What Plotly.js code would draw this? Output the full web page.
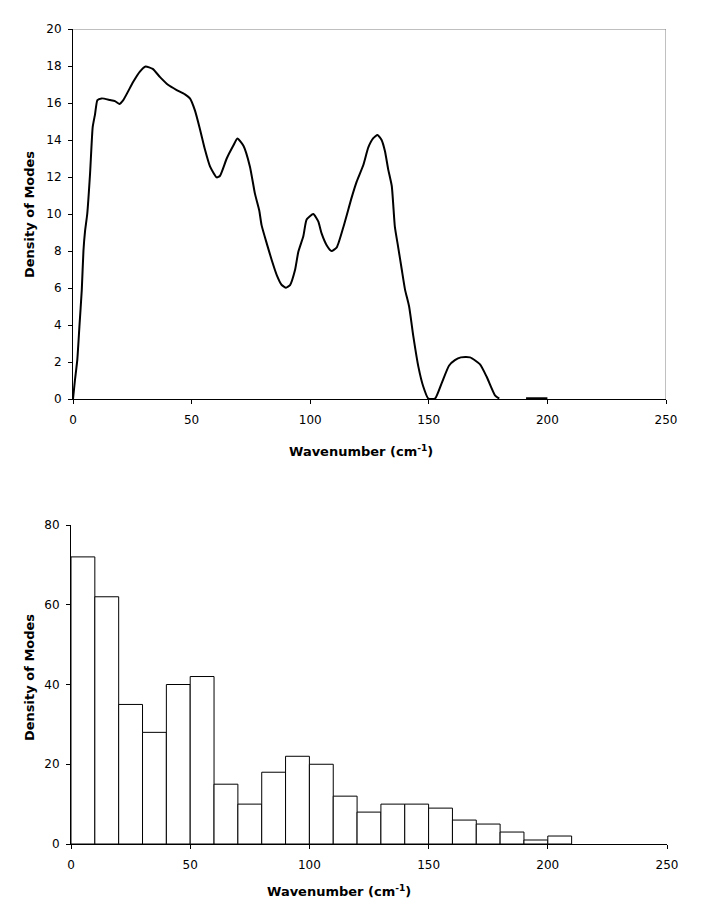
<!DOCTYPE html>
<html>
<head>
<meta charset="utf-8">
<script src="https://cdn.plot.ly/plotly-3.0.1.min.js"></script>
<style>html,body{margin:0;padding:0;background:#fff;}#chart{width:728px;height:922px;}</style>
</head>
<body>
<div id="chart"></div>
<script>
// Top panel: density of modes curve
const curveX = [0, 0.8, 1.8, 2.7, 3.7, 4.4, 5.1, 6.0, 7.2, 8.3, 9.3, 10.3, 12.1, 15.6, 17.7, 19.5, 21.2, 25.4, 28.2, 30.6, 33.6, 36.7, 40.2, 43.7, 47.2, 49.3, 51.4, 53.5, 55.6, 57.8, 60.6, 62, 64.8, 67.6, 69.3, 71.8, 74.6, 76.7, 78.5, 79.5, 81.7, 83.8, 85.9, 88, 89.8, 91.5, 93.6, 95, 97.1, 98.5, 101.3, 103.4, 104.8, 107, 109, 111.2, 114, 117.5, 119.6, 122.4, 124.5, 126.6, 128.4, 130.1, 131.5, 132.9, 134.4, 135.7, 137.1, 138.6, 140, 141.7, 143.5, 145.6, 147.7, 149.8, 152.6, 155.4, 158.5, 161, 163.5, 167.4, 171.6, 174.4, 177.9, 179.7, null, 191, 200];
const curveY = [0, 1.0, 2.1, 3.9, 5.9, 8.0, 9.1, 10.0, 12.2, 14.7, 15.4, 16.16, 16.25, 16.16, 16.1, 15.95, 16.16, 17.15, 17.7, 17.97, 17.84, 17.4, 16.97, 16.7, 16.47, 16.25, 15.6, 14.6, 13.5, 12.56, 11.98, 12.07, 13.0, 13.7, 14.08, 13.7, 12.56, 11.1, 10.2, 9.4, 8.4, 7.5, 6.7, 6.16, 6.02, 6.16, 6.97, 7.96, 8.8, 9.7, 10.0, 9.6, 8.95, 8.3, 8.0, 8.2, 9.3, 10.9, 11.75, 12.65, 13.6, 14.1, 14.27, 14.0, 13.4, 12.4, 11.5, 9.3, 8.2, 7.0, 5.9, 5.0, 3.37, 1.75, 0.66, 0.02, 0.02, 0.85, 1.8, 2.1, 2.25, 2.25, 1.87, 1.2, 0.2, 0.02, null, 0.04, 0.04];

// Bottom panel: histogram (bin start, count), bin width 10
const binStarts = [0, 10, 20, 30, 40, 50, 60, 70, 80, 90, 100, 110, 120, 130, 140, 150, 160, 170, 180, 190, 200];
const binCounts = [72, 62, 35, 28, 40, 42, 15, 10, 18, 22, 20, 12, 8, 10, 10, 9, 6, 5, 3, 1, 2];
const binWidth = 10;

const topYTicks = [0, 2, 4, 6, 8, 10, 12, 14, 16, 18, 20];
const xTicks = [0, 50, 100, 150, 200, 250];
const bottomYTicks = [0, 20, 40, 60, 80];

const axisTitle = 'Density of Modes';
const xTitle = 'Wavenumber (cm<sup>-1</sup>)';

const W = 728, H = 922;
const px = v => v / W;
const py = v => 1 - v / H;

const font = {family: 'DejaVu Sans, Verdana, sans-serif', size: 12, color: '#000'};
const titleFont = {family: 'DejaVu Sans, Verdana, sans-serif', size: 13, color: '#000', weight: 'bold'};

const traces = [
  {
    x: curveX, y: curveY, type: 'scatter', mode: 'lines',
    line: {color: '#000', width: 2, shape: 'spline', smoothing: 0.5}, xaxis: 'x', yaxis: 'y',
    connectgaps: false, hoverinfo: 'skip'
  },
  {
    x: binStarts.map(b => b + binWidth / 2), y: binCounts, type: 'bar',
    width: binWidth, marker: {color: '#fff', line: {color: '#000', width: 1}},
    xaxis: 'x2', yaxis: 'y2', hoverinfo: 'skip'
  }
];

const commonAxis = {
  showgrid: false, zeroline: false, showline: true, linecolor: '#000', linewidth: 1,
  ticks: 'outside', ticklen: 4, tickcolor: '#000', tickwidth: 1, tickfont: font,
  fixedrange: true
};

const layout = {
  width: W, height: H,
  margin: {l: 0, r: 0, t: 0, b: 0},
  paper_bgcolor: '#fff', plot_bgcolor: '#fff',
  showlegend: false,
  bargap: 0,
  xaxis: Object.assign({}, commonAxis, {
    domain: [px(73), px(666)], range: [0, 250], tickvals: xTicks, anchor: 'y', ticklabelstandoff: 6
  }),
  yaxis: Object.assign({}, commonAxis, {
    domain: [py(399), py(29)], range: [0, 20], tickvals: topYTicks, anchor: 'x', ticklabelstandoff: 4
  }),
  xaxis2: Object.assign({}, commonAxis, {
    domain: [px(71), px(667)], range: [0, 250], tickvals: xTicks, anchor: 'y2', ticklabelstandoff: 6
  }),
  yaxis2: Object.assign({}, commonAxis, {
    domain: [py(844), py(525)], range: [0, 80], tickvals: bottomYTicks, anchor: 'x2', ticklabelstandoff: 4
  }),
  shapes: [
    {type: 'line', xref: 'x', yref: 'y', x0: 0, x1: 250, y0: 20, y1: 20, line: {color: '#808080', width: 1}},
    {type: 'line', xref: 'x', yref: 'y', x0: 250, x1: 250, y0: 0, y1: 20, line: {color: '#808080', width: 1}}
  ],
  annotations: [
    {text: axisTitle, xref: 'paper', yref: 'paper', x: px(30), y: py(215), textangle: -90,
     showarrow: false, font: titleFont, xanchor: 'center', yanchor: 'middle'},
    {text: xTitle, xref: 'paper', yref: 'paper', x: px(361), y: py(451),
     showarrow: false, font: titleFont, xanchor: 'center', yanchor: 'middle'},
    {text: axisTitle, xref: 'paper', yref: 'paper', x: px(29), y: py(678), textangle: -90,
     showarrow: false, font: titleFont, xanchor: 'center', yanchor: 'middle'},
    {text: xTitle, xref: 'paper', yref: 'paper', x: px(339), y: py(891),
     showarrow: false, font: titleFont, xanchor: 'center', yanchor: 'middle'}
  ]
};

Plotly.newPlot('chart', traces, layout, {displayModeBar: false, staticPlot: true});
</script>
</body>
</html>
